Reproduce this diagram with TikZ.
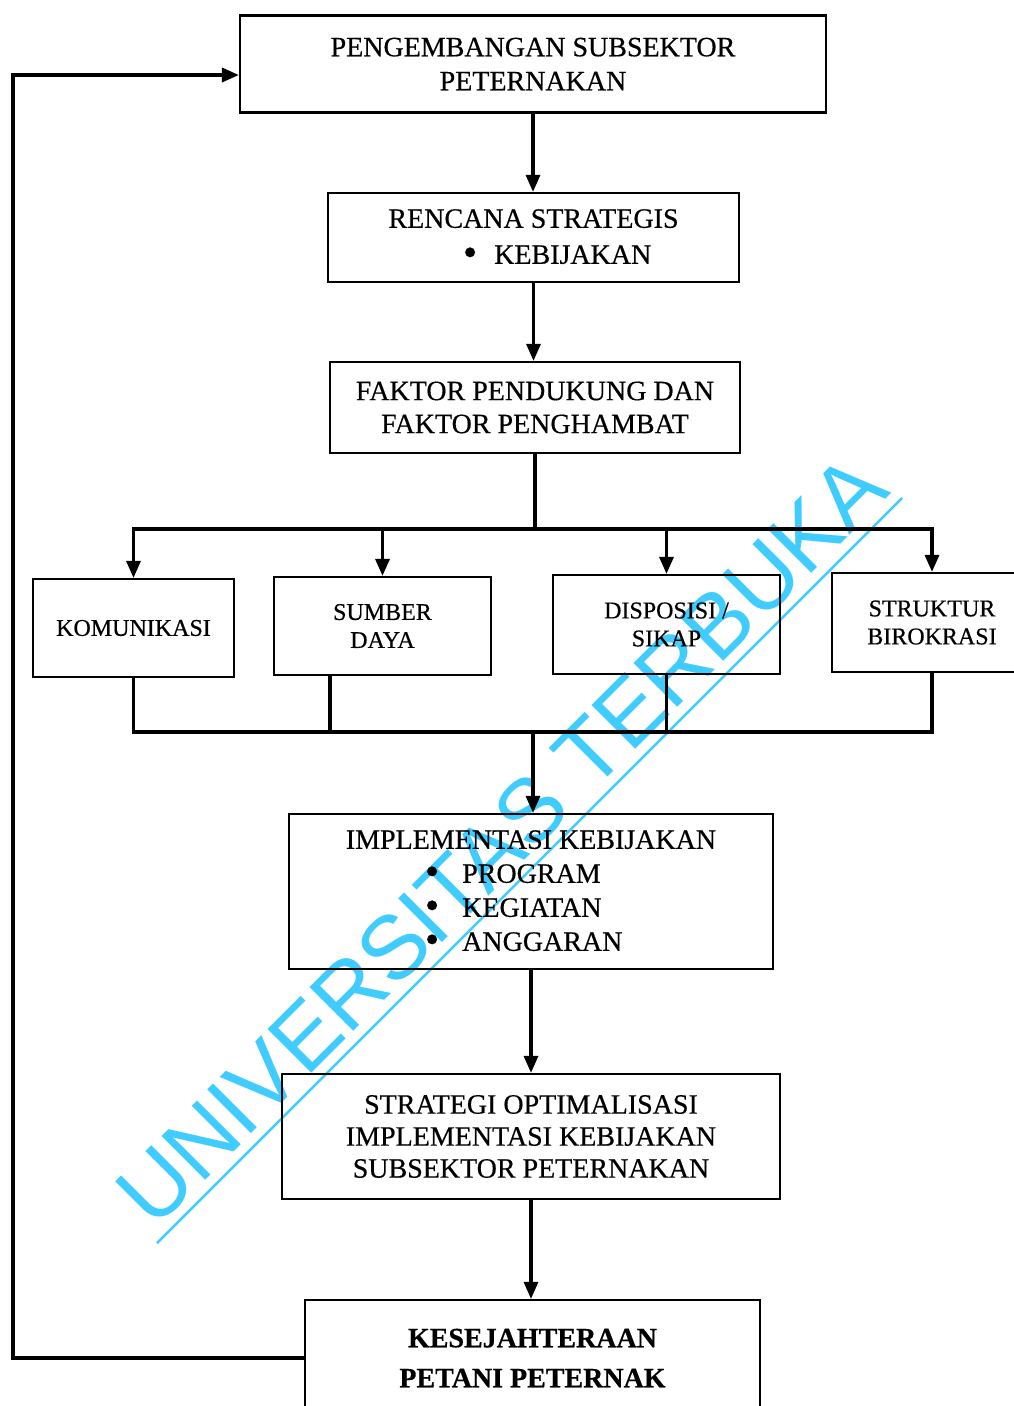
\documentclass[tikz,border=0pt]{standalone}
\usepackage{fontspec}
\setmainfont{Liberation Serif}[FakeBold=0.5]
\newfontfamily\wmfont{Liberation Sans}
\usetikzlibrary{arrows.meta}
\definecolor{wmcyan}{RGB}{64,204,255}
\newcommand{\bigdot}{\raisebox{-2pt}{\scalebox{1.45}{•}}}
\begin{document}
\begin{tikzpicture}[x=1pt,y=-1pt,
  box/.style={draw, line width=2.2pt, inner sep=0pt, align=center, font=\fontsize{28}{34}\selectfont},
  sbox/.style={box, font=\fontsize{24}{28}\selectfont},
  conn/.style={line width=3.2pt},
  arr/.style={line width=3.2pt, -{Triangle[length=17pt,width=14pt]}}]
\clip (0,0) rectangle (1014,1406);
% watermark
\node[text=wmcyan, font=\wmfont\fontsize{90}{90}\selectfont, rotate=45, anchor=base, inner sep=0pt] (wmtext) at (523,862) {UNIVERSITAS TERBUKA};
\draw[wmcyan, line width=2.5pt] (157,1243) -- (902,498);
% boxes
\node[box, minimum width=586pt, minimum height=97pt] (top) at (533,64) {PENGEMBANGAN SUBSEKTOR\\PETERNAKAN};
\node[box, minimum width=411pt, minimum height=89pt, font=\fontsize{28}{36}\selectfont] (ren) at (533.5,237.5) {RENCANA STRATEGIS\\\makebox[141pt][l]{\bigdot\hspace{17pt}KEBIJAKAN}};
\node[box, minimum width=410pt, minimum height=91pt, font=\fontsize{28}{33}\selectfont] (fak) at (535,407.5) {FAKTOR PENDUKUNG DAN\\FAKTOR PENGHAMBAT};
\node[sbox, minimum width=201pt, minimum height=98pt] (kom) at (133.5,628) {KOMUNIKASI};
\node[sbox, minimum width=217pt, minimum height=98pt] (sum) at (382.5,626) {SUMBER\\DAYA};
\node[sbox, minimum width=227pt, minimum height=99pt] (dis) at (666.5,624.5) {DISPOSISI /\\SIKAP};
\node[sbox, minimum width=200pt, minimum height=99pt] (str) at (932,622.5) {STRUKTUR\\BIROKRASI};
\node[box, minimum width=484pt, minimum height=155pt] (imp) at (531,891.5) {IMPLEMENTASI KEBIJAKAN\\\makebox[212pt][l]{\bigdot\hspace{23pt}PROGRAM}\\\makebox[212pt][l]{\bigdot\hspace{23pt}KEGIATAN}\\\makebox[212pt][l]{\bigdot\hspace{23pt}ANGGARAN}};
\node[box, minimum width=498pt, minimum height=125pt, font=\fontsize{28}{32}\selectfont] (strat) at (531,1136.5) {STRATEGI OPTIMALISASI\\IMPLEMENTASI KEBIJAKAN\\SUBSEKTOR PETERNAKAN};
\node[box, minimum width=455pt, minimum height=116pt, font=\bfseries\fontsize{28}{40}\selectfont] (kes) at (532.5,1358) {KESEJAHTERAAN\\PETANI PETERNAK};
% coordinates
\coordinate (b1) at (535,529);
\coordinate (b2) at (533,732);
\coordinate (sb) at (330,675);
\coordinate (f1) at (13,1358);
\coordinate (f2) at (13,75);
% connectors
\draw[arr] (top.south) -- (top.south |- ren.north);
\draw[arr] (ren.south) -- (ren.south |- fak.north);
\draw[conn] (fak.south) -- (b1);
\draw[arr] (b1) -| (kom.north);
\draw[arr] (b1) -| (str.north);
\draw[arr] (sum.north |- b1) -- (sum.north);
\draw[arr] (dis.north |- b1) -- (dis.north);
\draw[conn] (kom.south) |- (str.south |- b2) -- (str.south);
\draw[conn] (sb) -- (sb |- b2);
\draw[conn] (dis.south) -- (dis.south |- b2);
\draw[arr] (b2) -- (b2 |- imp.north);
\draw[arr] (imp.south) -- (imp.south |- strat.north);
\draw[arr] (strat.south) -- (strat.south |- kes.north);
\draw[arr, line width=3.5pt] (kes.west) -- (f1) -- (f2) -- (top.west |- f2);
\end{tikzpicture}
\end{document}
